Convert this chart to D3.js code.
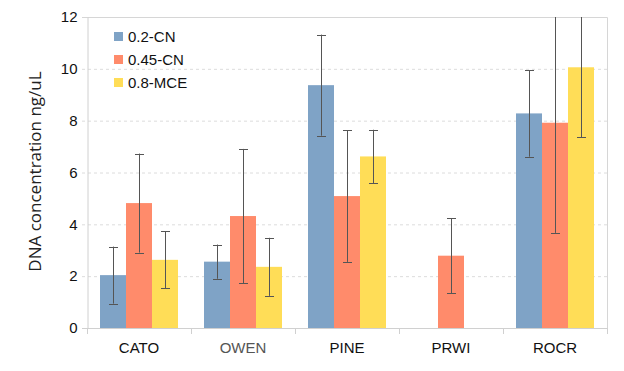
<!DOCTYPE html>
<html>
<head>
<meta charset="utf-8">
<script src="https://cdn.jsdelivr.net/npm/d3@7"></script>
<style>
  body { margin: 0; background: #fff; }
  svg { display: block; }
</style>
</head>
<body>
<svg id="chart" width="624" height="371"></svg>
<script>
const sites = ["CATO", "OWEN", "PINE", "PRWI", "ROCR"];
const filters = ["0.2-CN", "0.45-CN", "0.8-MCE"];
const colors = ["#7fa3c6", "#ff8b6b", "#ffdd57"];
// mean concentration per filter, one entry per site (null = no bar)
const mean02 = [2.04, 2.56, 9.37, null, 8.28];
const mean045 = [4.82, 4.32, 5.09, 2.79, 7.92];
const mean08 = [2.63, 2.36, 6.62, null, 10.06];
// error (half length of the bar)
const err02 = [1.10, 0.66, 1.95, null, 1.67];
const err045 = [1.91, 2.59, 2.54, 1.44, 4.25];
const err08 = [1.10, 1.12, 1.03, null, 2.70];
const yTicks = [0, 2, 4, 6, 8, 10, 12];

const margin = { top: 17, right: 17, bottom: 43, left: 87 };
const width = 624;
const height = 371;

const means = [mean02, mean045, mean08];
const errs = [err02, err045, err08];
const rows = [];
sites.forEach((s, i) => {
  filters.forEach((f, j) => {
    if (means[j][i] != null) rows.push({ site: s, filter: f, k: j, v: means[j][i], e: errs[j][i] });
  });
});

const svg = d3.select("#chart");

const x = d3.scaleBand()
  .domain(sites)
  .range([margin.left, width - margin.right]);

const x1 = d3.scaleBand()
  .domain(filters)
  .range([0, x.bandwidth()])
  .paddingOuter(0.5);

const y = d3.scaleLinear()
  .domain([0, 12])
  .range([height - margin.bottom, margin.top]);

svg.append("clipPath").attr("id", "clip")
  .append("rect")
  .attr("x", margin.left).attr("y", margin.top)
  .attr("width", width - margin.left - margin.right)
  .attr("height", height - margin.top - margin.bottom);

// gridlines
svg.append("g")
  .selectAll("line")
  .data(yTicks.filter(d => d > 0 && d < 12))
  .join("line")
  .attr("x1", margin.left - 5).attr("x2", width - margin.right)
  .attr("y1", d => y(d) + 0.5).attr("y2", d => y(d) + 0.5)
  .attr("stroke", "#dcdcdc")
  .attr("stroke-dasharray", "3,3");

// frame top and right
svg.append("path")
  .attr("d", `M${margin.left - 5},${y(12) + 0.5}H${width - margin.right + 0.5}V${y(0)}`)
  .attr("fill", "none")
  .attr("stroke", "#d6d6d6");

// bars
svg.append("g")
  .selectAll("rect")
  .data(rows)
  .join("rect")
  .attr("x", d => x(d.site) + x1(d.filter))
  .attr("y", d => y(d.v))
  .attr("width", x1.bandwidth())
  .attr("height", d => y(0) - y(d.v))
  .attr("fill", d => colors[d.k]);

// error bars
const eb = svg.append("g")
  .attr("clip-path", "url(#clip)")
  .attr("stroke", "#555")
  .attr("stroke-width", 1);

rows.forEach(d => {
  const cx = Math.round(x(d.site) + x1(d.filter) + x1.bandwidth() / 2) + 0.5;
  const hi = y(d.v + d.e);
  const lo = y(d.v - d.e);
  eb.append("line").attr("x1", cx).attr("x2", cx).attr("y1", hi).attr("y2", lo);
  eb.append("line").attr("x1", cx - 4.5).attr("x2", cx + 4.5).attr("y1", Math.round(hi) + 0.5).attr("y2", Math.round(hi) + 0.5);
  eb.append("line").attr("x1", cx - 4.5).attr("x2", cx + 4.5).attr("y1", Math.round(lo) + 0.5).attr("y2", Math.round(lo) + 0.5);
});

// y axis
const yAxis = svg.append("g")
  .attr("transform", `translate(${margin.left + 0.5},0)`)
  .call(d3.axisLeft(y).tickValues(yTicks).tickSize(0).tickPadding(10))
  .call(g => g.select(".domain").attr("stroke", "#d0d0d0"));
yAxis.selectAll("text")
  .attr("font-family", "Liberation Sans, Arial, sans-serif")
  .attr("font-size", 15)
  .attr("fill", "#111");

// x axis
const xAxis = svg.append("g")
  .attr("transform", `translate(0,${y(0) + 0.5})`)
  .call(d3.axisBottom(x).tickSize(0).tickPadding(14))
  .call(g => g.select(".domain").attr("stroke", "#d0d0d0"));
xAxis.select(".domain").attr("d", `M${margin.left - 5},0H${width - margin.right}`);
xAxis.selectAll("text")
  .attr("font-family", "Liberation Sans, Arial, sans-serif")
  .attr("font-size", 15)
  .attr("fill", d => d === "OWEN" ? "#555" : "#111");

svg.append("g")
  .selectAll("line")
  .data(sites.concat(["end"]))
  .join("line")
  .attr("x1", d => Math.round(d === "end" ? width - margin.right : x(d)) + 0.5)
  .attr("x2", d => Math.round(d === "end" ? width - margin.right : x(d)) + 0.5)
  .attr("y1", y(0)).attr("y2", y(0) + 6)
  .attr("stroke", "#d0d0d0");

// y title
svg.append("text")
  .attr("transform", `translate(41,${(y(0) + y(12)) / 2 - 1}) rotate(-90)`)
  .attr("text-anchor", "middle")
  .attr("font-family", "Open Sans, sans-serif")
  .attr("font-size", 17)
  .attr("fill", "#222")
  .text("DNA concentration ng/uL");

// legend
const legend = svg.append("g")
  .attr("transform", "translate(114,32)");
const li = legend.selectAll("g")
  .data(filters)
  .join("g")
  .attr("transform", (d, i) => `translate(0,${i * 23})`);
li.append("rect")
  .attr("width", 9).attr("height", 9)
  .attr("fill", (d, i) => colors[i]);
li.append("text")
  .attr("x", 14).attr("y", 5)
  .attr("dy", "0.35em")
  .attr("font-family", "Liberation Sans, Arial, sans-serif")
  .attr("font-size", 15)
  .attr("fill", "#111")
  .text(d => d);
</script>
</body>
</html>
